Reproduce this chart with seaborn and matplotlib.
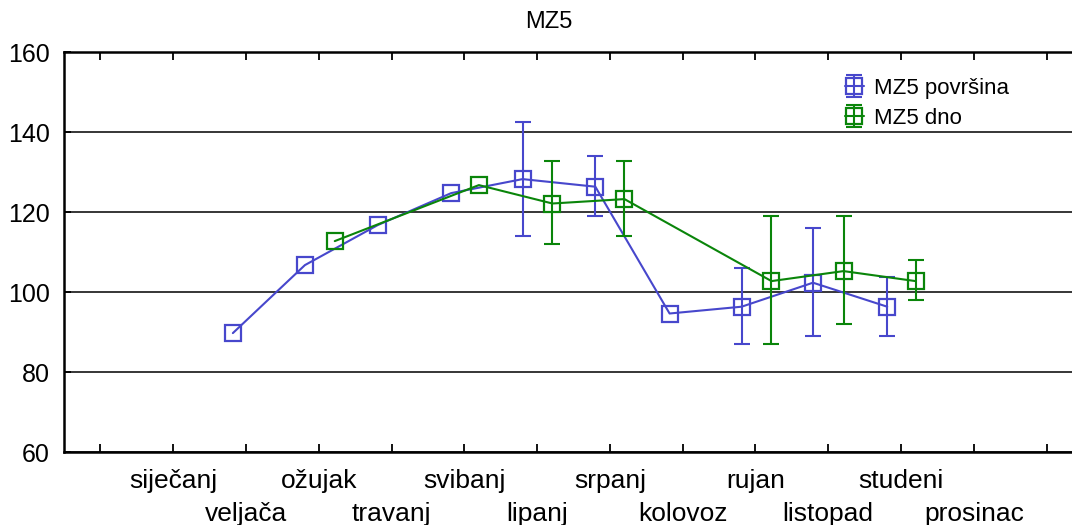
import numpy as np
import matplotlib
matplotlib.use("Agg")
import matplotlib.pyplot as plt
from matplotlib.legend_handler import HandlerTuple
import seaborn as sns

# month names (Croatian), plotted at positions 1..12
months = ['siječanj', 'veljača', 'ožujak', 'travanj', 'svibanj', 'lipanj',
          'srpanj', 'kolovoz', 'rujan', 'listopad', 'studeni', 'prosinac']

# MZ5 površina (surface)
surf_x = [1.82, 2.81, 3.81, 4.82, 5.80, 6.80, 7.82, 8.81, 9.79, 10.81]
surf_y = [89.8, 106.8, 116.8, 124.8, 128.3, 126.4, 94.7, 96.4, 102.4, 96.4]
surf_lo = [np.nan, np.nan, np.nan, np.nan, 114.1, 119.1, np.nan, 87.0, 89.1, 89.1]
surf_hi = [np.nan, np.nan, np.nan, np.nan, 142.5, 134.1, np.nan, 106.0, 116.0, 103.9]

# MZ5 dno (bottom)
dno_x = [3.22, 5.20, 6.21, 7.20, 9.22, 10.21, 11.20]
dno_y = [112.8, 126.8, 122.2, 123.3, 102.8, 105.3, 102.8]
dno_lo = [np.nan, np.nan, 112.1, 114.0, 87.0, 92.1, 98.1]
dno_hi = [np.nan, np.nan, 132.8, 132.8, 119.1, 119.1, 108.1]

series_names = ['MZ5 površina', 'MZ5 dno']
colors = ['#4747cc', '#0a850a']

sns.set_style("white")
plt.rcParams['font.family'] = ['Liberation Sans', 'DejaVu Sans']

W, H = 1072, 525
fig = plt.figure(figsize=(W / 100, H / 100), dpi=100)
ax = fig.add_axes([64 / W, 72.7 / H, (1083 - 64) / W, 400 / H])

handles = []
for x, y, lo, hi, col in [(surf_x, surf_y, surf_lo, surf_hi, colors[0]),
                          (dno_x, dno_y, dno_lo, dno_hi, colors[1])]:
    x = np.array(x); y = np.array(y); lo = np.array(lo); hi = np.array(hi)
    sns.lineplot(x=x, y=y, ax=ax, color=col, lw=1.5, marker='s', markersize=11,
                 markerfacecolor='none', markeredgecolor=col, markeredgewidth=1.6,
                 sort=False, estimator=None)
    line = ax.get_lines()[-1]
    m = ~np.isnan(lo)
    eb = ax.errorbar(x[m], y[m], yerr=[y[m] - lo[m], hi[m] - y[m]], fmt='none',
                     ecolor=col, elinewidth=1.5, capsize=5.5, capthick=1.5)
    handles.append((line, eb))

ax.set_xlim(-0.5, 13.5)
ax.set_ylim(60, 160)
ax.set_yticks(range(60, 161, 20))

# tick marks at 0..13; odd months labelled on the first row, even months on a second row
ax.xaxis.remove_overlapping_locs = False
ax.set_xticks(range(14))
ax.set_xticklabels([''] + [m if i % 2 == 0 else '' for i, m in enumerate(months)] + [''])
ax.set_xticks(range(2, 13, 2), minor=True)
ax.set_xticklabels(months[1::2], minor=True)
ax.set_xlabel('')
ax.set_ylabel('')

ax.grid(axis='y', color='black', lw=1.1)
ax.grid(axis='x', visible=False)
for s in ['left', 'bottom', 'top']:
    ax.spines[s].set_color('black')
    ax.spines[s].set_linewidth(1.8)
ax.spines['right'].set_visible(False)
ax.tick_params(axis='x', which='major', direction='in', length=6, width=1.3,
               top=True, bottom=True, labelsize=19, pad=12, colors='black')
ax.tick_params(axis='x', which='minor', direction='in', length=0, top=False,
               bottom=True, labelsize=19, pad=36, colors='black')
ax.tick_params(axis='y', direction='in', length=5, width=1.3, left=True, right=False,
               labelsize=18, pad=10, colors='black')

fig.text(549 / W, 1 - 22 / H, 'MZ5', ha='center', va='center', fontsize=17,
         color='black')

ax.legend(handles, series_names, handler_map={tuple: HandlerTuple(ndivide=1)},
          loc='upper left', bbox_to_anchor=(845 / W, 1 - 78 / H),
          bbox_transform=fig.transFigure, frameon=False, handlelength=0.85,
          handletextpad=0.45, labelspacing=0.4, borderpad=0, borderaxespad=0,
          fontsize=16, labelcolor='black')

fig.savefig('out.png', dpi=100)
